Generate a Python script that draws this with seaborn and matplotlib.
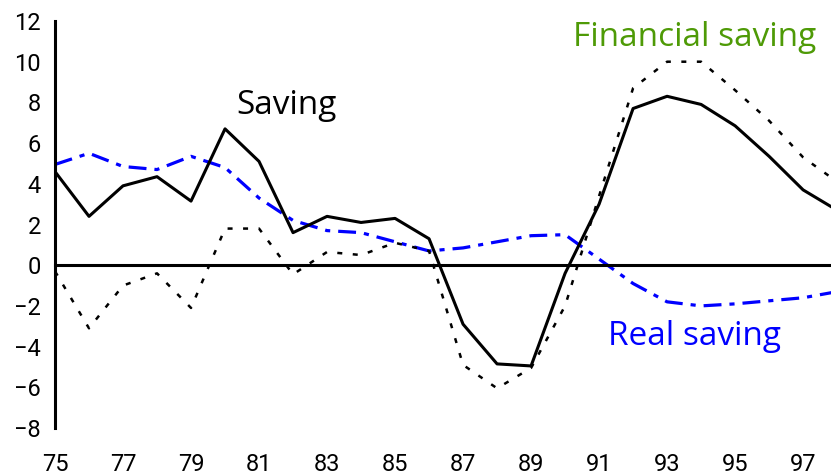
import numpy as np
import pandas as pd
import matplotlib
matplotlib.use("Agg")
import matplotlib.pyplot as plt
import seaborn as sns

# values (per cent), years 1975-1998
years = list(range(75, 99))
saving = [4.6, 2.4, 3.9, 4.35, 3.15, 6.7, 5.1, 1.6, 2.4, 2.1, 2.3, 1.3,
          -2.9, -4.85, -4.95, -0.4, 3.0, 7.7, 8.3, 7.9, 6.85, 5.35, 3.7, 2.7]
financial = [-0.3, -3.1, -1.0, -0.4, -2.1, 1.8, 1.8, -0.45, 0.65, 0.5, 1.1, 0.7,
             -4.9, -6.05, -5.05, -2.0, 3.4, 8.7, 10.0, 10.0, 8.6, 7.1, 5.3, 4.1]
real = [4.95, 5.5, 4.85, 4.7, 5.35, 4.8, 3.3, 2.2, 1.7, 1.6, 1.15, 0.7,
        0.85, 1.15, 1.45, 1.5, 0.3, -0.9, -1.8, -2.0, -1.9, -1.75, -1.6, -1.3]

xticks = list(range(75, 98, 2))
yticks = list(range(-8, 13, 2))

df = pd.DataFrame({"year": years, "saving": saving,
                   "financial": financial, "real": real})

sns.set_style("white")
plt.rcParams["font.family"] = ["Open Sans", "DejaVu Sans"]

fig = plt.figure(figsize=(8.31, 4.76), dpi=100)
ax = fig.add_axes([55 / 831, 1 - 428 / 476, 1 - 55 / 831, (428 - 21) / 476])

sns.lineplot(data=df, x="year", y="real", ax=ax, color="#0000ff", lw=2.3,
             linestyle=(0, (5.6, 2.5, 1.6, 2.5)))
sns.lineplot(data=df, x="year", y="financial", ax=ax, color="black", lw=1.8,
             linestyle=(0, (2, 4.2)))
sns.lineplot(data=df, x="year", y="saving", ax=ax, color="black", lw=2.2)

ax.set_xlim(75, 97.82)
ax.set_ylim(-8, 12)
ax.set_xlabel("")
ax.set_ylabel("")

for s in ["top", "right"]:
    ax.spines[s].set_visible(False)
ax.spines["bottom"].set_position(("data", 0))
ax.spines["bottom"].set_linewidth(2.2)
ax.spines["left"].set_linewidth(2.2)
ax.spines["bottom"].set_color("black")
ax.spines["left"].set_color("black")

ax.set_xticks(xticks)
ax.set_xticklabels([str(t) for t in xticks])
ax.set_yticks(yticks)
ax.tick_params(axis="both", direction="in", length=6, width=2, color="black",
               labelsize=17, labelcolor="black")
ax.tick_params(axis="x", pad=135)
ax.tick_params(axis="y", pad=10)
for lab in ax.get_xticklabels() + ax.get_yticklabels():
    lab.set_family(["Liberation Sans Narrow", "Roboto"])

ax.text(81.82, 7.87, "Saving", fontsize=24, color="black", ha="center", va="center")
ax.text(93.82, 11.2, "Financial saving", fontsize=24, color="#4e9a06",
        ha="center", va="center")
ax.text(93.8, -3.5, "Real saving", fontsize=24, color="#0000ff",
        ha="center", va="center")

fig.savefig("out.png", dpi=100)
